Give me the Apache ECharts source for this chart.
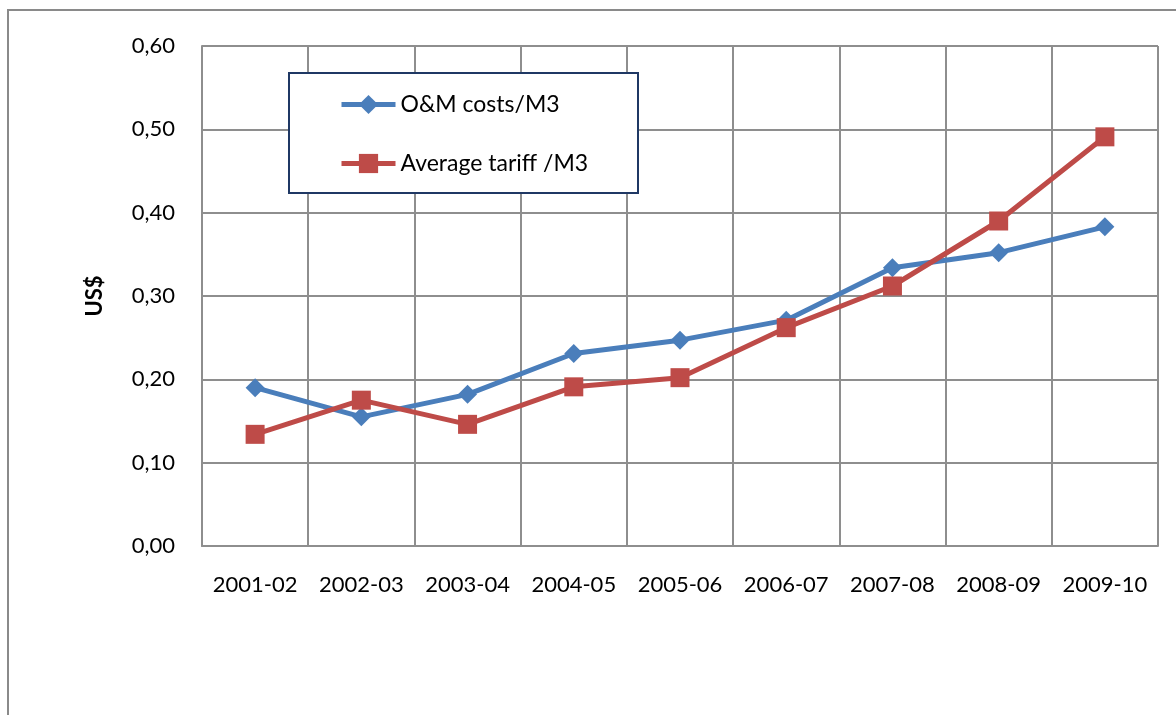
<!DOCTYPE html>
<html>
<head>
<meta charset="utf-8">
<script src="https://cdn.jsdelivr.net/npm/echarts@6/dist/echarts.min.js"></script>
<style>
html,body{margin:0;padding:0;background:#fff;}
#chart{width:1176px;height:715px;}
</style>
</head>
<body>
<div id="chart"></div>
<script>
const categories = ['2001-02','2002-03','2003-04','2004-05','2005-06','2006-07','2007-08','2008-09','2009-10'];
const omCosts = [0.190, 0.155, 0.182, 0.231, 0.247, 0.271, 0.334, 0.352, 0.383];
const avgTariff = [0.134, 0.175, 0.146, 0.191, 0.202, 0.262, 0.312, 0.390, 0.491];
const seriesNames = ['O&M costs/M3', 'Average tariff /M3'];
const yAxisTitle = 'US$';

const chart = echarts.init(document.getElementById('chart'));
const font = 'Lato, "Noto Sans", sans-serif';
const gridColor = '#8e8e8e';
chart.setOption({
  animation: false,
  backgroundColor: '#fff',
  graphic: [
    { type: 'rect', z: 0, shape: { x: 8, y: 10, width: 1300, height: 900 },
      style: { fill: 'none', stroke: '#8a8a8a', lineWidth: 2 } },
    { type: 'rect', z: 50, shape: { x: 289, y: 73, width: 349, height: 120 },
      style: { fill: '#fff', stroke: '#1f3864', lineWidth: 2 } }
  ],
  grid: { left: 202, right: 18, top: 46, bottom: 169, containLabel: false },
  legend: {
    z: 60,
    orient: 'vertical',
    left: 334, top: 88,
    itemWidth: 54, itemHeight: 24,
    itemGap: 36,
    lineStyle: { width: 5 },
    textStyle: { fontFamily: font, fontSize: 23, color: '#000', lineHeight: 20 },
    data: seriesNames
  },
  xAxis: {
    type: 'category',
    data: categories,
    boundaryGap: true,
    axisLine: { lineStyle: { color: gridColor, width: 2 } },
    axisTick: { show: false },
    axisLabel: { fontFamily: font, fontSize: 22, color: '#000', margin: 28, interval: 0 },
    splitLine: { show: true, lineStyle: { color: gridColor, width: 2 } }
  },
  yAxis: {
    type: 'value',
    min: 0, max: 0.6, interval: 0.1,
    name: yAxisTitle,
    nameLocation: 'middle',
    nameRotate: 90,
    nameGap: 96,
    nameTextStyle: { fontFamily: font, fontSize: 22, fontWeight: 'bold', color: '#000' },
    axisLine: { show: true, lineStyle: { color: gridColor, width: 2 } },
    axisTick: { show: false },
    axisLabel: { fontFamily: font, fontSize: 22, color: '#000', margin: 27,
      formatter: v => v.toFixed(2).replace('.', ',') },
    splitLine: { show: true, lineStyle: { color: gridColor, width: 2 } }
  },
  series: [
    { name: seriesNames[0], type: 'line', data: omCosts,
      symbol: 'diamond', symbolSize: 19,
      lineStyle: { color: '#4a7ebb', width: 5 },
      itemStyle: { color: '#4a7ebb' } },
    { name: seriesNames[1], type: 'line', data: avgTariff,
      symbol: 'rect', symbolSize: 19,
      lineStyle: { color: '#be4b48', width: 5 },
      itemStyle: { color: '#be4b48' } }
  ]
});
</script>
</body>
</html>
